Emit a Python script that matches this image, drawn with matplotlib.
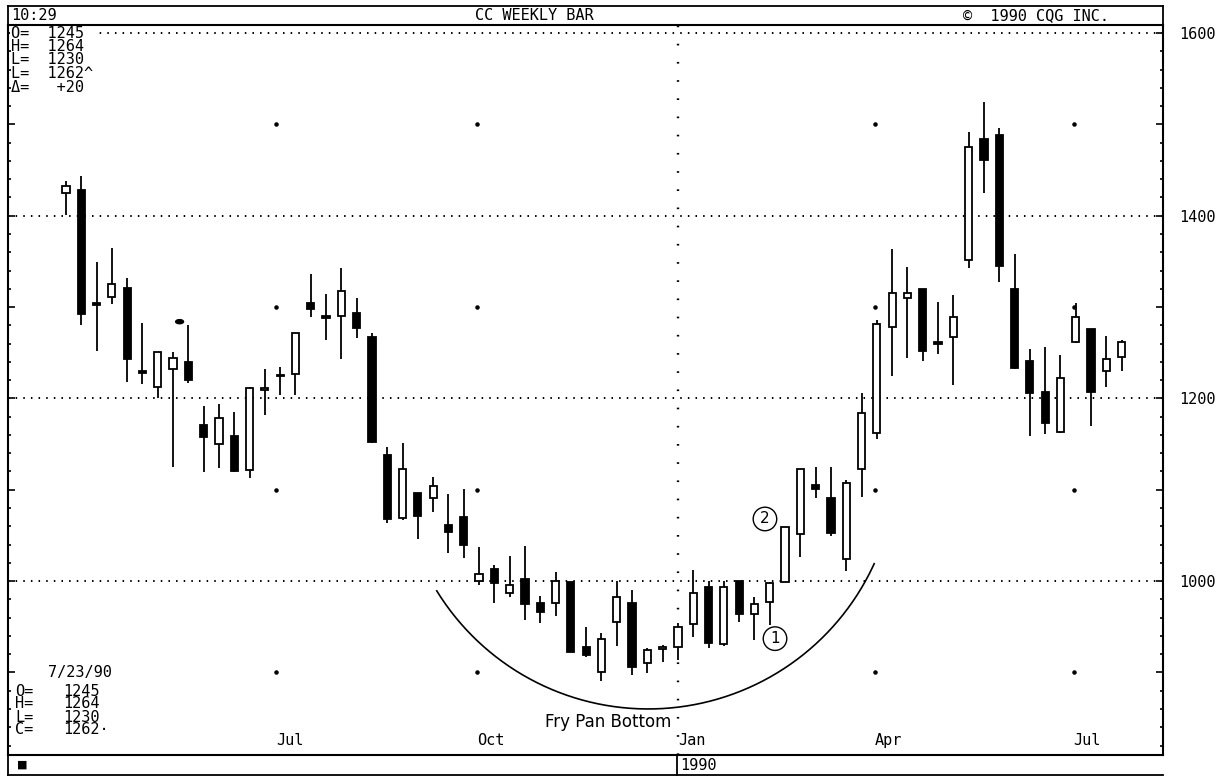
import numpy as np
import pandas as pd
import matplotlib
matplotlib.use('Agg')
import matplotlib.pyplot as plt
import matplotlib.dates as mdates
from matplotlib.lines import Line2D
from matplotlib.patches import Ellipse, Rectangle
from matplotlib.ticker import MultipleLocator, FuncFormatter

plt.rcParams['lines.scale_dashes'] = False
MONO = 'DejaVu Sans Mono'

# weekly cocoa bars, first week 3/27/89, last week 7/23/90
first_week = '1989-03-27'
opens = [1425, 1428, 1304, 1311, 1321, 1230, 1212, 1232, 1240, 1171,
         1150, 1159, 1122, 1209, 1224, 1227, 1304, 1290, 1290, 1293,
         1267, 1138, 1069, 1096, 1091, 1061, 1070, 1000, 1013, 987,
         1002, 976, 976, 999, 928, 900, 955, 976, 910, 926,
         928, 953, 993, 931, 1000, 964, 977, 999, 1052, 1105,
         1091, 1024, 1123, 1162, 1278, 1310, 1320, 1262, 1267, 1352,
         1484, 1488, 1320, 1241, 1207, 1163, 1262, 1276, 1230, 1245]
highs = [1438, 1443, 1349, 1365, 1332, 1283, 1251, 1251, 1280, 1192,
         1194, 1185, 1212, 1232, 1234, 1272, 1336, 1314, 1343, 1310,
         1272, 1147, 1151, 1096, 1114, 1095, 1101, 1037, 1018, 1027,
         1038, 984, 1010, 999, 950, 943, 1000, 990, 927, 930,
         954, 1012, 1000, 1000, 1000, 983, 999, 1059, 1123, 1125,
         1125, 1111, 1206, 1286, 1364, 1344, 1320, 1306, 1313, 1492,
         1524, 1496, 1358, 1254, 1256, 1248, 1304, 1276, 1268, 1264]
lows = [1401, 1280, 1252, 1303, 1218, 1216, 1200, 1125, 1217, 1119,
        1124, 1119, 1113, 1182, 1204, 1204, 1289, 1264, 1243, 1266,
        1151, 1064, 1067, 1046, 1076, 1031, 1025, 996, 976, 983,
        957, 954, 962, 922, 917, 891, 929, 897, 899, 911,
        914, 939, 927, 929, 955, 936, 952, 999, 1026, 1091,
        1049, 1011, 1092, 1156, 1225, 1244, 1241, 1249, 1215, 1343,
        1425, 1327, 1232, 1159, 1161, 1162, 1261, 1170, 1212, 1230]
closes = [1433, 1292, 1302, 1325, 1243, 1228, 1251, 1244, 1220, 1158,
          1179, 1121, 1211, 1211, 1226, 1272, 1298, 1288, 1318, 1277,
          1152, 1068, 1123, 1071, 1104, 1054, 1040, 1008, 998, 996,
          975, 966, 1000, 922, 919, 937, 983, 906, 925, 928,
          950, 987, 932, 994, 964, 975, 998, 1059, 1123, 1101,
          1053, 1107, 1184, 1281, 1315, 1315, 1252, 1260, 1289, 1475,
          1461, 1345, 1233, 1206, 1173, 1222, 1289, 1207, 1243, 1262]

grid_levels = [1000, 1200, 1400, 1600]
half_levels = [900, 1100, 1300, 1500]
quarter_dates = ['1989-07-01', '1989-10-01', '1990-01-01', '1990-04-01', '1990-07-01']
quarter_labels = ['Jul', 'Oct', 'Jan', 'Apr', 'Jul']
year_start = '1990-01-01'

last_info = ['O=  1245', 'H=  1264', 'L=  1230', 'L=  1262^', '\u0394=   +20']
bar_info = [('O=', '1245'), ('H=', '1264'), ('L=', '1230'), ('C=', '1262\u00b7')]

W, H = 1223, 776
fig = plt.figure(figsize=(W / 100, H / 100), dpi=100)


def fx(x):
    return x / W


def fy(y):
    return 1 - y / H


ax = fig.add_axes([fx(8), fy(755), fx(1163) - fx(8), fy(25) - fy(755)])

xs = mdates.date2num(pd.date_range(first_week, periods=len(opens), freq='7D'))
o = np.array(opens)
c = np.array(closes)
jan = mdates.date2num(pd.Timestamp(year_start))
qx = mdates.date2num(pd.to_datetime(quarter_dates))

# grid
for lv in grid_levels:
    ax.axhline(lv, color='black', lw=1.4, dashes=(1.1, 4.4), zorder=1)
ax.axvline(jan, color='black', lw=1.7, dashes=(1.2, 11.9), zorder=1)
gx, gy = np.meshgrid([q for q in qx if q != jan], half_levels)
ax.scatter(gx.ravel(), gy.ravel(), s=5, color='black', zorder=1)

# candles
ax.vlines(xs, lows, highs, color='black', lw=1.3, zorder=2)
ax.bar(xs, np.abs(c - o), bottom=np.minimum(o, c), width=3.3,
       color=np.where(c >= o, 'white', 'black'), edgecolor='black',
       linewidth=1.3, zorder=3)
ax.add_patch(Ellipse((jan - 228, 1284), 3.6, 4.5, color='black', zorder=3))

# fry pan arc
t = np.radians(np.linspace(-148.4, -24.5, 200))
ax.plot(jan - 13.6 + 113.6 * np.cos(t), 1131.7 + 271.7 * np.sin(t),
        color='black', lw=1.2, zorder=2)
ax.text(jan - 32, 846, 'Fry Pan Bottom', ha='center', va='center',
        fontsize=12, family='DejaVu Sans')
for lab, dx, yv in [('1', 44.4, 937), ('2', 39.8, 1068)]:
    ax.text(jan + dx, yv, lab, ha='center', va='center', fontsize=11,
            family='DejaVu Sans',
            bbox=dict(boxstyle='circle,pad=0.28', fc='white', ec='black', lw=1.0))

ax.set_xlim(jan - 306.5, jan + 221.9)
ax.set_ylim(809.6, 1608.8)

ax.yaxis.set_major_locator(MultipleLocator(100))
ax.yaxis.set_minor_locator(MultipleLocator(20))
ax.yaxis.set_major_formatter(FuncFormatter(lambda v, p: f'{v:.0f}' if v % 200 == 0 else ''))
ax.tick_params(axis='y', which='both', direction='in', left=True, right=True,
               labelleft=False, labelright=True, width=1.2, pad=12)
ax.tick_params(axis='y', which='major', length=5)
ax.tick_params(axis='y', which='minor', length=2.5)
ax.set_xticks(qx, quarter_labels, ha='left', family=MONO, fontsize=11)
ax.tick_params(axis='x', length=0, pad=-16)
for lbl in ax.get_yticklabels():
    lbl.set_family(MONO)
    lbl.set_fontsize(11)
for sp in ax.spines.values():
    sp.set_linewidth(1.5)

# header and footer frame
frame = [((8, 1163), (6, 6)), ((8, 8), (6, 776)), ((1163, 1163), (6, 25)),
         ((8, 1163), (775, 775)), ((677, 677), (755, 776))]
for (x0, x1), (y0, y1) in frame:
    fig.add_artist(Line2D([fx(x0), fx(x1)], [fy(y0), fy(y1)], color='black', lw=1.3))

fig.text(fx(11), fy(16), '10:29', family=MONO, fontsize=11, va='center')
fig.text(fx(534), fy(16), 'CC WEEKLY BAR', family=MONO, fontsize=11, va='center', ha='center')
fig.text(fx(963), fy(16), '\u00a9  1990 CQG INC.', family=MONO, fontsize=11, va='center')

# the readout sits on top of the 1600 grid line
fig.add_artist(Rectangle((fx(9.5), fy(39)), fx(98) - fx(9.5), fy(27) - fy(39),
                         transform=fig.transFigure, fc='white', ec='none'))
for i, line in enumerate(last_info):
    fig.text(fx(11), fy(33 + 13.5 * i), line, family=MONO, fontsize=11, va='center')

fig.text(fx(48), fy(672), '7/23/90', family=MONO, fontsize=11, va='center')
for i, (k, v) in enumerate(bar_info):
    yy = 691 + 13 * i
    fig.text(fx(15), fy(yy), k, family=MONO, fontsize=11, va='center')
    fig.text(fx(63), fy(yy), v, family=MONO, fontsize=11, va='center')

fig.text(fx(17), fy(765), '\u25a0', family='DejaVu Sans', fontsize=8, va='center')
fig.text(fx(680), fy(766), '1990', family=MONO, fontsize=11, va='center')

fig.savefig('out.png', dpi=100, facecolor='white')
